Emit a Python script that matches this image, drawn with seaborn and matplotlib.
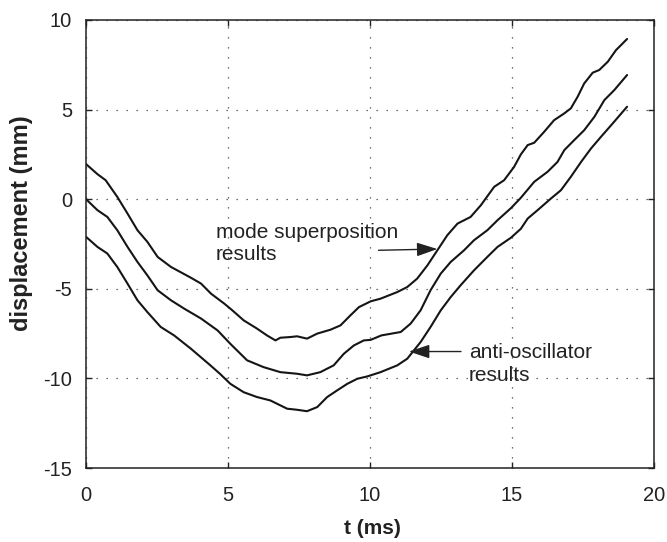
import matplotlib
matplotlib.use("Agg")
import matplotlib.pyplot as plt
import seaborn as sns
import pandas as pd

# top curve (mode superposition results)
t_top = [0, 0.40, 0.69, 1.10, 1.46, 1.81, 2.16, 2.52, 2.99, 3.69, 4.05, 4.40, 4.87, 5.15, 5.55, 6.02, 6.37,
         6.67, 6.84, 7.20, 7.43, 7.78, 8.14, 8.61, 8.96, 9.31, 9.61, 10.02, 10.37, 10.96, 11.31, 11.66, 12.02,
         12.37, 12.72, 13.08, 13.54, 13.90, 14.37, 14.72, 15.07, 15.31, 15.55, 15.78, 16.13, 16.48, 16.84,
         17.07, 17.31, 17.54, 17.84, 18.07, 18.37, 18.66, 19.05]
d_top = [1.96, 1.40, 1.06, 0.13, -0.80, -1.73, -2.38, -3.22, -3.78, -4.38, -4.71, -5.27, -5.83, -6.20, -6.76,
         -7.22, -7.60, -7.88, -7.73, -7.69, -7.65, -7.78, -7.50, -7.28, -7.04, -6.48, -6.02, -5.70, -5.55,
         -5.18, -4.90, -4.43, -3.69, -2.85, -2.01, -1.36, -0.99, -0.34, 0.69, 1.06, 1.80, 2.50, 3.02, 3.15,
         3.76, 4.41, 4.79, 5.07, 5.72, 6.46, 7.06, 7.21, 7.67, 8.32, 8.94]

# middle curve
t_mid = [0, 0.40, 0.75, 1.10, 1.46, 1.81, 2.16, 2.52, 2.99, 3.46, 4.05, 4.63, 5.10, 5.67, 6.25, 6.84, 7.43,
         7.78, 8.25, 8.72, 9.08, 9.43, 9.78, 10.02, 10.40, 11.08, 11.43, 11.78, 12.13, 12.49, 12.84, 13.31,
         13.66, 14.13, 14.49, 14.96, 15.31, 15.78, 16.25, 16.60, 16.84, 17.19, 17.54, 17.90, 18.25, 18.60,
         19.05]
d_mid = [0, -0.61, -0.99, -1.73, -2.66, -3.50, -4.25, -5.08, -5.64, -6.11, -6.66, -7.32, -8.10, -8.99, -9.37,
         -9.65, -9.74, -9.83, -9.65, -9.27, -8.62, -8.16, -7.88, -7.85, -7.60, -7.41, -6.94, -6.20, -5.08,
         -4.15, -3.50, -2.85, -2.29, -1.73, -1.17, -0.50, 0.08, 0.97, 1.53, 2.08, 2.74, 3.30, 3.85, 4.60,
         5.53, 6.09, 6.93]

# bottom curve (anti-oscillator results)
t_bot = [0, 0.40, 0.75, 1.10, 1.46, 1.81, 2.16, 2.63, 3.10, 3.69, 4.37, 4.72, 5.08, 5.55, 6.02, 6.49, 7.08,
         7.43, 7.78, 8.14, 8.49, 8.84, 9.20, 9.55, 9.90, 10.37, 10.96, 11.31, 11.78, 12.13, 12.49, 12.84,
         13.19, 13.66, 14.13, 14.49, 14.96, 15.31, 15.55, 15.90, 16.37, 16.72, 17.07, 17.43, 17.78, 18.13,
         18.49, 19.05]
d_bot = [-2.10, -2.66, -3.03, -3.78, -4.71, -5.64, -6.30, -7.13, -7.60, -8.34, -9.26, -9.75, -10.30, -10.77,
         -11.04, -11.23, -11.69, -11.75, -11.83, -11.60, -11.04, -10.67, -10.30, -10.02, -9.89, -9.65, -9.27,
         -8.90, -7.97, -7.13, -6.20, -5.46, -4.80, -3.97, -3.22, -2.66, -2.15, -1.65, -1.08, -0.61, 0.04,
         0.50, 1.25, 2.08, 2.83, 3.48, 4.13, 5.16]

x_ticks = [0, 5, 10, 15, 20]
y_ticks = [-15, -10, -5, 0, 5, 10]

sns.set_style("ticks")
plt.rcParams['font.family'] = ['Liberation Sans', 'DejaVu Sans']
plt.rcParams['axes.unicode_minus'] = False

df = pd.concat([
    pd.DataFrame({"t": t_top, "d": d_top, "series": "mode superposition"}),
    pd.DataFrame({"t": t_mid, "d": d_mid, "series": "middle"}),
    pd.DataFrame({"t": t_bot, "d": d_bot, "series": "anti-oscillator"}),
])

ink = "#222222"
fig = plt.figure(figsize=(6.67, 5.42), dpi=100)
ax = fig.add_axes([0.129, 0.1365, 0.8516, 0.8266])

sns.lineplot(data=df, x="t", y="d", units="series", estimator=None, color="#151515",
             linewidth=1.5, ax=ax, legend=False, sort=False)

ax.set_xlim(0, 20)
ax.set_ylim(-15, 10)
ax.set_xticks(x_ticks)
ax.set_yticks(y_ticks)
ax.grid(True, linestyle=(0, (1, 7)), color="#444444", linewidth=0.9)
ax.tick_params(direction="in", length=4, top=True, right=True, labelsize=14.5, color=ink,
               labelcolor=ink, width=1.0)
ax.tick_params(axis="x", pad=13)
ax.tick_params(axis="y", pad=10)
for s in ax.spines.values():
    s.set_linewidth(1.1)
    s.set_color(ink)

ax.set_xlabel("t (ms)", fontsize=15, fontweight="bold", color=ink)
ax.set_ylabel("displacement (mm)", fontsize=17, fontweight="bold", color=ink)
ax.xaxis.set_label_coords(0.504, -0.113)
ax.yaxis.set_label_coords(-0.094, 0.546)

ax.text(4.58, -2.18, "mode superposition", fontsize=15, va="baseline", ha="left", color=ink)
ax.text(4.58, -3.40, "results", fontsize=15, va="baseline", ha="left", color=ink)
ax.annotate("", xy=(12.37, -2.78), xytext=(10.3, -2.85),
            arrowprops=dict(arrowstyle="-|>,head_length=0.9,head_width=0.3", color=ink, lw=1.0,
                            mutation_scale=14, shrinkA=0, shrinkB=0))
ax.text(13.48, -8.88, "anti-oscillator", fontsize=15, va="baseline", ha="left", color=ink)
ax.text(13.48, -10.12, "results", fontsize=15, va="baseline", ha="left", color=ink)
ax.annotate("", xy=(11.37, -8.5), xytext=(13.2, -8.5),
            arrowprops=dict(arrowstyle="-|>,head_length=0.9,head_width=0.3", color=ink, lw=1.0,
                            mutation_scale=14, shrinkA=0, shrinkB=0))

fig.savefig("out.png", dpi=100)
